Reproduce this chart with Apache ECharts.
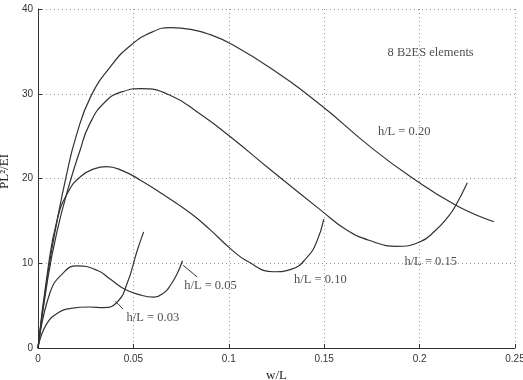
<!DOCTYPE html>
<html>
<head>
<meta charset="utf-8">
<script src="https://cdn.jsdelivr.net/npm/echarts@6/dist/echarts.min.js"></script>
<style>
  html, body { margin: 0; padding: 0; background: #fff; }
  #chart { width: 523px; height: 380px; }
</style>
</head>
<body>
<div id="chart"></div>
<script>
// 曲线数据 [w/L, PL^2/EI]
const h003 = [[0, 0], [0.0047, 2.9], [0.0117, 4.3], [0.0166, 4.65], [0.027, 4.84], [0.0344, 4.77],
  [0.0414, 5.4], [0.0467, 7.6], [0.052, 11.5], [0.0554, 13.7]];
const h005 = [[0, 0], [0.0061, 6.4], [0.0134, 8.9], [0.0205, 9.7], [0.031, 9.17], [0.038, 8.1],
  [0.045, 7.0], [0.053, 6.3], [0.0607, 6.0], [0.0665, 6.6], [0.0694, 7.4], [0.073, 8.8], [0.0757, 10.3]];
const h010 = [[0, 0], [0.005, 9], [0.010, 15.1], [0.016, 18.5], [0.0227, 20.3], [0.029, 21.1],
  [0.0358, 21.4], [0.0445, 20.9], [0.0537, 19.8], [0.065, 18.2], [0.08, 15.9], [0.09, 14.0],
  [0.101, 11.7], [0.11, 10.2], [0.1236, 9.0], [0.133, 9.3], [0.141, 10.7], [0.146, 12.5], [0.1498, 15.2]];
const h015 = [[0, 0], [0.005, 8], [0.01, 13.8], [0.0163, 19.2], [0.022, 23.3], [0.0268, 26.3],
  [0.035, 29.0], [0.045, 30.3], [0.0537, 30.6], [0.0695, 29.8], [0.085, 27.6], [0.101, 24.9],
  [0.122, 21.0], [0.148, 16.3], [0.162, 13.9], [0.175, 12.6], [0.188, 12.0], [0.2, 12.5],
  [0.208, 13.8], [0.215, 15.5], [0.219, 16.85], [0.225, 19.5]];
const h020 = [[0, 0], [0.005, 8.5], [0.01, 15.0], [0.015, 20.5], [0.02, 25.0], [0.0275, 29.6],
  [0.038, 33.2], [0.0485, 35.7], [0.06, 37.3], [0.0695, 37.8], [0.08, 37.6], [0.09, 37.0],
  [0.101, 35.9], [0.122, 33.0], [0.148, 28.7], [0.1744, 23.7], [0.1953, 20.2], [0.219, 16.85],
  [0.239, 14.9]];

// 引线
const leader003 = [[0.0406, 5.5], [0.0446, 4.6]];
const leader005 = [[0.0761, 9.76], [0.0834, 8.38]];

// 注释文字
const notes = [
  { name: '8 B2ES elements', value: [0.2058, 34.8] },
  { name: 'h/L = 0.20', value: [0.1919, 25.5] },
  { name: 'h/L = 0.15', value: [0.2058, 10.2] },
  { name: 'h/L = 0.10', value: [0.148, 8.0] },
  { name: 'h/L = 0.05', value: [0.0904, 7.4] },
  { name: 'h/L = 0.03', value: [0.0602, 3.6] }
];

const xTicks = [0, 0.05, 0.1, 0.15, 0.2, 0.25];
const yTicks = [0, 10, 20, 30, 40];

const chart = echarts.init(document.getElementById('chart'));

const lineColor = '#333';
const serif = '"Liberation Serif", "DejaVu Serif", serif';

function curve(name, data) {
  return {
    name: name,
    type: 'line',
    data: data,
    smooth: 0.5,
    symbol: 'none',
    lineStyle: { color: lineColor, width: 1.2 },
    silent: true
  };
}

function leader(data) {
  return {
    type: 'line',
    data: data,
    symbol: 'none',
    lineStyle: { color: lineColor, width: 1 },
    silent: true
  };
}

chart.setOption({
  animation: false,
  backgroundColor: '#fff',
  grid: { left: 38, right: 8, top: 9, bottom: 32, outerBoundsMode: 'none', containLabel: false },
  xAxis: {
    type: 'value',
    min: xTicks[0],
    max: xTicks[xTicks.length - 1],
    interval: 0.05,
    name: 'w/L',
    nameLocation: 'middle',
    nameGap: 21,
    nameTextStyle: { fontFamily: serif, fontSize: 13, color: '#222' },
    axisLine: { lineStyle: { color: lineColor, width: 1 } },
    axisTick: { inside: true, length: 4, lineStyle: { color: lineColor } },
    axisLabel: { fontFamily: '"Liberation Sans", Arial, sans-serif', fontSize: 10, color: '#333', margin: 6 },
    splitLine: { show: true, lineStyle: { color: '#999', type: [1, 3], width: 1 } }
  },
  yAxis: {
    type: 'value',
    min: yTicks[0],
    max: yTicks[yTicks.length - 1],
    interval: 10,
    name: 'PL²/EI',
    nameLocation: 'middle',
    nameGap: 17,
    nameRotate: 90,
    nameTextStyle: { fontFamily: serif, fontSize: 13, color: '#222', padding: [0, 0, 0, 14] },
    axisLine: { show: true, lineStyle: { color: lineColor, width: 1 } },
    axisTick: { show: true, inside: true, length: 4, lineStyle: { color: lineColor } },
    axisLabel: { fontFamily: '"Liberation Sans", Arial, sans-serif', fontSize: 10, color: '#333', margin: 5 },
    splitLine: { show: true, lineStyle: { color: '#999', type: [1, 3], width: 1 } }
  },
  series: [
    curve('h/L = 0.03', h003),
    curve('h/L = 0.05', h005),
    curve('h/L = 0.10', h010),
    curve('h/L = 0.15', h015),
    curve('h/L = 0.20', h020),
    leader(leader003),
    leader(leader005),
    {
      type: 'scatter',
      data: notes,
      symbolSize: 0,
      silent: true,
      label: {
        show: true,
        position: 'inside',
        formatter: '{b}',
        fontFamily: serif,
        fontSize: 12.5,
        color: '#222'
      }
    }
  ]
});
</script>
</body>
</html>
